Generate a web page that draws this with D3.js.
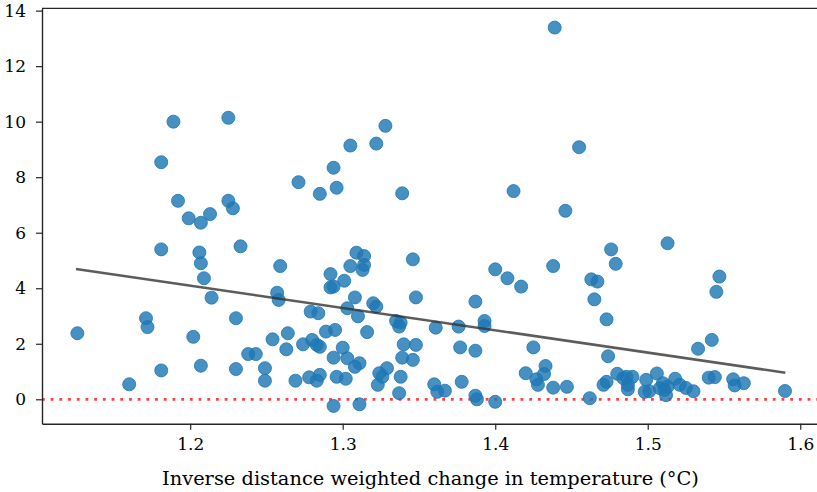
<!DOCTYPE html>
<html>
<head>
<meta charset="utf-8">
<script src="https://cdn.jsdelivr.net/npm/d3@7"></script>
<style>
  body { margin: 0; background: #fff; }
  svg { display: block; }
  text { font-family: "DejaVu Serif", serif; fill: #000; }
</style>
</head>
<body>
<svg id="chart" width="817" height="492"></svg>
<script>
// inverse distance weighted change in temperature (°C)
const idwTemp = [
  1.126, 1.160, 1.171, 1.172, 1.181, 1.181, 1.181, 1.189, 1.192, 1.199,
  1.202, 1.206, 1.207, 1.207, 1.209, 1.207, 1.213, 1.214, 1.225, 1.225,
  1.228, 1.230, 1.230, 1.233, 1.238, 1.243, 1.249, 1.249, 1.254, 1.257,
  1.258, 1.259, 1.264, 1.263, 1.269, 1.271, 1.274, 1.279, 1.278, 1.280,
  1.283, 1.284, 1.285, 1.283, 1.285, 1.285, 1.289, 1.292, 1.294, 1.292,
  1.294, 1.294, 1.294, 1.296, 1.295, 1.296, 1.300, 1.301, 1.302, 1.303,
  1.305, 1.305, 1.303, 1.308, 1.309, 1.310, 1.308, 1.311, 1.311, 1.314,
  1.314, 1.313, 1.316, 1.320, 1.322, 1.322, 1.323, 1.324, 1.326, 1.328,
  1.329, 1.335, 1.338, 1.337, 1.337, 1.338, 1.339, 1.339, 1.340, 1.346,
  1.346, 1.348, 1.348, 1.361, 1.360, 1.362, 1.367, 1.376, 1.377, 1.378,
  1.387, 1.387, 1.387, 1.388, 1.393, 1.393, 1.400, 1.400, 1.408, 1.412,
  1.417, 1.420, 1.425, 1.427, 1.428, 1.433, 1.432, 1.438, 1.438, 1.439,
  1.446, 1.447, 1.455, 1.462, 1.463, 1.467, 1.465, 1.473, 1.474, 1.473,
  1.471, 1.476, 1.479, 1.480, 1.484, 1.486, 1.487, 1.487, 1.490, 1.499,
  1.498, 1.501, 1.506, 1.510, 1.511, 1.512, 1.513, 1.508, 1.513, 1.518,
  1.521, 1.525, 1.530, 1.533, 1.540, 1.544, 1.542, 1.545, 1.547, 1.556,
  1.557, 1.563, 1.590
];

const change = [
  2.38, 0.54, 2.92, 2.60, 1.04, 5.40, 8.54, 10.00, 7.15, 6.52,
  2.25, 5.29, 4.90, 6.36, 4.36, 1.21, 6.67, 3.66, 10.14, 7.15,
  6.88, 2.92, 1.09, 5.51, 1.63, 1.63, 0.67, 1.12, 2.16, 3.84,
  3.58, 4.80, 2.38, 1.80, 0.67, 7.82, 1.98, 3.16, 0.79, 2.14,
  1.96, 3.10, 7.40, 0.67, 0.88, 1.89, 2.44, 4.03, 4.06, 4.51,
  8.34, -0.24, 1.50, 7.62, 2.50, 0.81, 1.86, 4.27, 0.74, 1.48,
  9.14, 4.80, 3.28, 3.67, 5.28, 2.99, 1.17, -0.18, 1.30, 5.16,
  4.84, 4.66, 2.42, 3.46, 3.34, 9.21, 0.52, 0.94, 0.81, 9.85,
  1.12, 2.82, 2.76, 2.62, 0.22, 0.81, 7.42, 1.50, 1.98, 1.42,
  5.04, 3.67, 1.96, 2.58, 0.54, 0.27, 0.31, 2.62, 1.87, 0.63,
  3.52, 1.75, 0.13, 0.00, 2.82, 2.64, 4.68, -0.09, 4.36, 7.50,
  4.06, 0.94, 1.87, 0.72, 0.52, 1.20, 0.91, 4.80, 0.42, 13.39,
  6.79, 0.45, 9.08, 0.04, 4.32, 4.24, 3.60, 2.88, 1.55, 0.63,
  0.52, 5.40, 4.88, 0.92, 0.76, 0.81, 0.52, 0.36, 0.81, 0.70,
  0.27, 0.29, 0.93, 0.58, 0.34, 0.15, 0.45, 0.40, 5.62, 0.74,
  0.52, 0.41, 0.29, 1.82, 0.78, 0.80, 2.14, 3.87, 4.42, 0.72,
  0.50, 0.58, 0.30
];

// fitted trend line end points
const fitTemp = [1.1251, 1.5902];
const fitChange = [4.694, 0.958];

const xTicks = [1.2, 1.3, 1.4, 1.5, 1.6];
const yTicks = [0, 2, 4, 6, 8, 10, 12, 14];
const xLabel = 'Inverse distance weighted change in temperature (°C)';

const W = 817, H = 492;
const margin = { top: 8.4, left: 42, right: -2, bottom: 68.3 };
const iw = W - margin.left - margin.right;
const ih = H - margin.top - margin.bottom;

const svg = d3.select('#chart');
const g = svg.append('g').attr('transform', `translate(${margin.left},${margin.top})`);

const x = d3.scaleLinear().domain([1.10282, 1.6123]).range([0, iw]);
const y = d3.scaleLinear().domain([-0.879, 14.08]).range([ih, 0]);

const points = idwTemp.map((v, i) => ({ t: v, c: change[i] }));

// zero reference
g.append('line')
  .attr('x1', 0).attr('x2', iw)
  .attr('y1', y(0)).attr('y2', y(0))
  .attr('stroke', '#ff2020')
  .attr('stroke-opacity', 0.85)
  .attr('stroke-width', 2.8)
  .attr('stroke-dasharray', '2.8,5.9');

g.append('g')
  .selectAll('circle')
  .data(points)
  .join('circle')
  .attr('cx', d => x(d.t))
  .attr('cy', d => y(d.c))
  .attr('r', 6.5)
  .attr('fill', '#1f77b4')
  .attr('fill-opacity', 0.82)
  .attr('stroke', '#1f77b4')
  .attr('stroke-opacity', 0.82)
  .attr('stroke-width', 1);

g.append('path')
  .datum(fitTemp.map((v, i) => [v, fitChange[i]]))
  .attr('d', d3.line().x(d => x(d[0])).y(d => y(d[1])))
  .attr('fill', 'none')
  .attr('stroke', '#333')
  .attr('stroke-opacity', 0.8)
  .attr('stroke-width', 2.6);

// axes
const xAxis = g.append('g')
  .attr('transform', `translate(0,${ih})`)
  .call(d3.axisBottom(x).tickValues(xTicks).tickFormat(d3.format('.1f')).tickSize(6).tickPadding(8).tickSizeOuter(0));

const yAxis = g.append('g')
  .call(d3.axisLeft(y).tickValues(yTicks).tickFormat(d3.format('d')).tickSize(6).tickPadding(10).tickSizeOuter(0));

[xAxis, yAxis].forEach(a => {
  a.select('.domain').attr('stroke', '#262626').attr('stroke-width', 1.4);
  a.selectAll('.tick line').attr('stroke', '#262626').attr('stroke-width', 1.2);
  a.selectAll('.tick text').attr('font-family', '"DejaVu Serif", serif').attr('font-size', 17).attr('fill', '#000');
});

// top spine
g.append('line')
  .attr('x1', 0).attr('x2', iw).attr('y1', 0).attr('y2', 0)
  .attr('stroke', '#262626').attr('stroke-width', 1.4);

svg.append('text')
  .attr('x', margin.left + iw / 2)
  .attr('y', 485)
  .attr('text-anchor', 'middle')
  .attr('font-size', 19.4)
  .text(xLabel);
</script>
</body>
</html>
